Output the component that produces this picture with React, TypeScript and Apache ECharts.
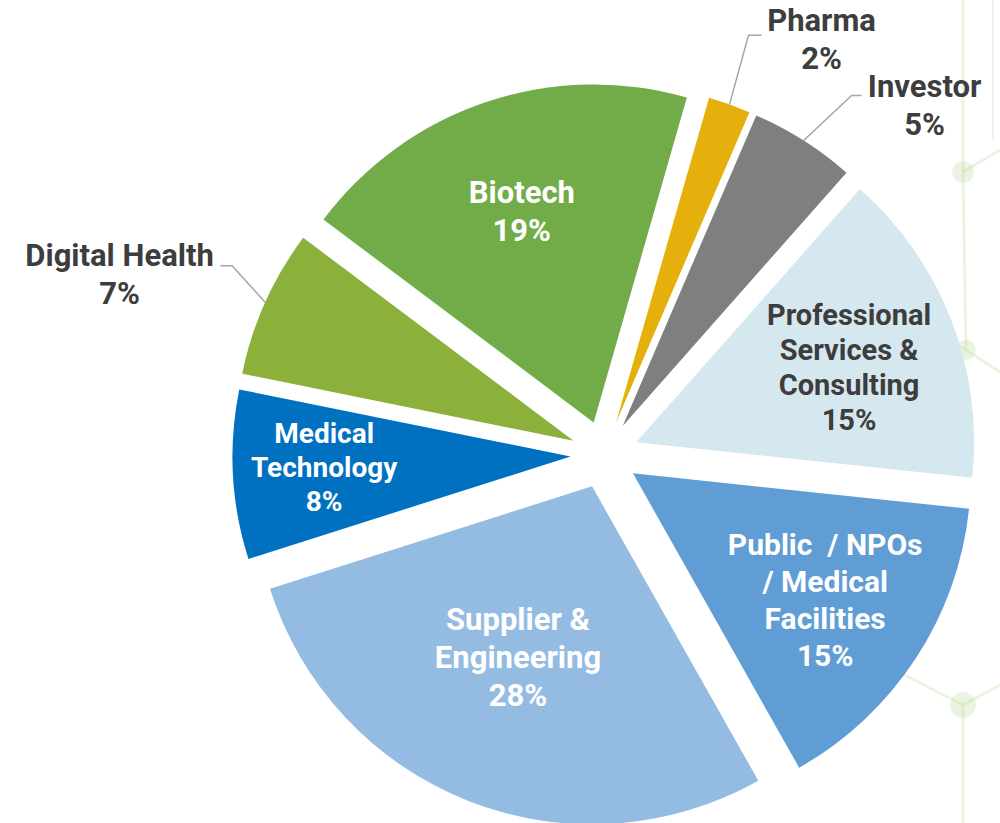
import React, { useEffect, useRef } from "react";
import * as echarts from "echarts";

// ---- data ----
const categories = [
  "Pharma",
  "Investor",
  "Professional\nServices &\nConsulting",
  "Public  / NPOs\n/ Medical\nFacilities",
  "Supplier &\nEngineering",
  "Medical\nTechnology",
  "Digital Health",
  "Biotech",
];
const shares = [2, 5, 15, 15, 28, 8, 7, 19];

// ---- styles / layout ----
const sliceColors = [
  "#E6B00C",
  "#7F7F7F",
  "#D6E8EF",
  "#609DD4",
  "#94BCE2",
  "#0070C0",
  "#8CB13B",
  "#71AC49",
];
const DARK = "#3d3d3d";
const WHITE = "#ffffff";
const CENTER = [604.5, 454.7];
const RADIUS = 338;
const EXPLODE = 34;
const START_ANGLE = 74;

type LabelCfg = {
  inside: boolean;
  color: string;
  size: number;
  lh: number;
  frac?: number;
  nudge?: [number, number];
  elbow?: [number, number];
  run?: number;
  textOffset?: [number, number];
};

const labelCfg: LabelCfg[] = [
  { inside: false, color: DARK, size: 31, lh: 38, elbow: [19, -69], run: 13, textOffset: [60, 4] },
  { inside: false, color: DARK, size: 31, lh: 38, elbow: [48, -45], run: 10, textOffset: [63, 10] },
  { inside: true, color: DARK, size: 29, lh: 35, frac: 0.667, nudge: [0, 8] },
  { inside: true, color: WHITE, size: 30, lh: 37, frac: 0.675, nudge: [-1, 0] },
  { inside: true, color: WHITE, size: 31, lh: 38, frac: 0.55, nudge: [-5, -5] },
  { inside: true, color: WHITE, size: 28, lh: 34, frac: 0.73, nudge: [3, -2] },
  { inside: false, color: DARK, size: 31, lh: 38, elbow: [-33, -36.5], run: -11.6, textOffset: [-101, 8.3] },
  { inside: true, color: WHITE, size: 31, lh: 38, frac: 0.66, nudge: [0, 3] },
];

const DECO = "rgba(170,205,140,0.24)";
const DECO_FILL = "rgba(190,220,160,0.32)";

function buildOption() {
  const total = shares.reduce((a, b) => a + b, 0);
  let cum = 0;
  const mids = shares.map((v) => {
    const deg = 90 - START_ANGLE + ((cum + v / 2) / total) * 360;
    cum += v;
    return (deg * Math.PI) / 180;
  });

  const series = shares.map((_, i) => {
    const m = mids[i];
    const dir = [Math.sin(m), -Math.cos(m)];
    const c = [CENTER[0] + EXPLODE * dir[0], CENTER[1] + EXPLODE * dir[1]];
    const cfg = labelCfg[i];
    return {
      type: "pie",
      center: c,
      radius: [0, RADIUS],
      startAngle: START_ANGLE,
      clockwise: true,
      silent: true,
      avoidLabelOverlap: false,
      emphasis: { disabled: true },
      itemStyle: { borderWidth: 0 },
      label: {
        show: true,
        position: cfg.inside ? "inside" : "outside",
        formatter: (p: any) => `${p.name}\n${p.value}%`,
        color: cfg.color,
        fontFamily: "Roboto",
        fontWeight: "bold",
        fontSize: cfg.size,
        lineHeight: cfg.lh,
        align: "center",
      },
      labelLine: {
        show: !cfg.inside,
        length: 20,
        length2: 10,
        smooth: false,
        lineStyle: { color: "#a6a6a6", width: 1.5 },
      },
      labelLayout: (params: any) => {
        if (params.dataIndex !== i) return {};
        if (cfg.inside) {
          const d = ((cfg.frac as number) - 0.5) * RADIUS;
          const n = cfg.nudge || [0, 0];
          return { dx: d * dir[0] + n[0], dy: d * dir[1] + n[1] };
        }
        const p0 = [c[0] + RADIUS * dir[0], c[1] + RADIUS * dir[1]];
        const e = cfg.elbow as [number, number];
        const p1 = [p0[0] + e[0], p0[1] + e[1]];
        const p2 = [p1[0] + (cfg.run as number), p1[1]];
        const t = cfg.textOffset as [number, number];
        return {
          x: p2[0] + t[0],
          y: p2[1] + t[1],
          align: "center",
          verticalAlign: "middle",
          labelLinePoints: [p0, p1, p2],
        };
      },
      data: shares.map((v, j) => ({
        value: v,
        name: categories[j],
        itemStyle: { color: j === i ? sliceColors[i] : "rgba(0,0,0,0)" },
        label: { show: j === i },
        labelLine: { show: j === i && !cfg.inside },
      })),
    };
  });

  const graphic = [
    { type: "line", shape: { x1: 963, y1: 0, x2: 963, y2: 172 }, style: { stroke: DECO, lineWidth: 3 }, z: -10 },
    { type: "line", shape: { x1: 963, y1: 172, x2: 1000, y2: 150 }, style: { stroke: DECO, lineWidth: 3 }, z: -10 },
    { type: "line", shape: { x1: 963, y1: 172, x2: 966, y2: 350 }, style: { stroke: DECO, lineWidth: 3 }, z: -10 },
    { type: "line", shape: { x1: 966, y1: 350, x2: 1000, y2: 372 }, style: { stroke: DECO, lineWidth: 3 }, z: -10 },
    { type: "line", shape: { x1: 966, y1: 350, x2: 930, y2: 330 }, style: { stroke: DECO, lineWidth: 3 }, z: -10 },
    { type: "line", shape: { x1: 963, y1: 705, x2: 963, y2: 823 }, style: { stroke: DECO, lineWidth: 3 }, z: -10 },
    { type: "line", shape: { x1: 963, y1: 705, x2: 905, y2: 675 }, style: { stroke: DECO, lineWidth: 3 }, z: -10 },
    { type: "line", shape: { x1: 963, y1: 705, x2: 1000, y2: 685 }, style: { stroke: DECO, lineWidth: 3 }, z: -10 },
    { type: "line", shape: { x1: 993, y1: 0, x2: 993, y2: 140 }, style: { stroke: DECO, lineWidth: 2 }, z: -10 },
    { type: "circle", shape: { cx: 963, cy: 172, r: 11 }, style: { fill: DECO_FILL }, z: -10 },
    { type: "circle", shape: { cx: 966, cy: 350, r: 10 }, style: { fill: DECO_FILL }, z: -10 },
    { type: "circle", shape: { cx: 963, cy: 705, r: 13 }, style: { fill: DECO_FILL }, z: -10 },
  ];

  return {
    animation: false,
    backgroundColor: "#ffffff",
    graphic,
    series,
  };
}

export default function App() {
  const ref = useRef<HTMLDivElement>(null);
  useEffect(() => {
    if (!ref.current) return;
    const chart = echarts.init(ref.current, undefined, { renderer: "svg" });
    chart.setOption(buildOption() as any);
    return () => chart.dispose();
  }, []);
  return (
    <div
      ref={ref}
      style={{ position: "absolute", left: 0, top: 0, width: 1000, height: 823 }}
    />
  );
}
